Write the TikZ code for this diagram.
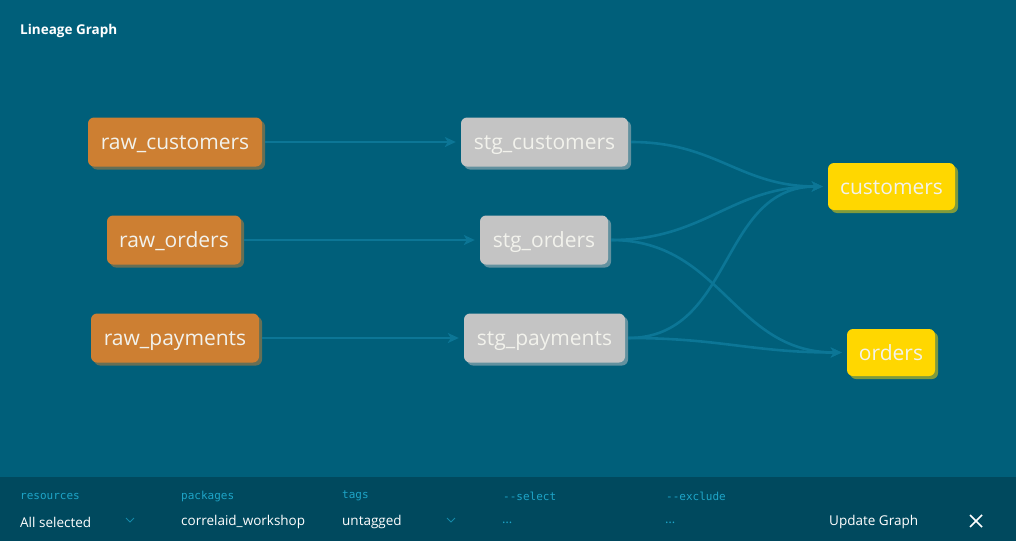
\documentclass[tikz,border=0pt]{standalone}
\usepackage{fontspec}
\setmainfont{Open Sans}
\setmonofont{DejaVu Sans Mono}
\usetikzlibrary{arrows.meta,shadows}

\definecolor{canvas}{RGB}{0,95,122}
\definecolor{panel}{RGB}{0,73,94}
\definecolor{edgeblue}{RGB}{12,118,150}
\definecolor{rawfill}{RGB}{205,127,50}
\definecolor{stgfill}{RGB}{196,196,196}
\definecolor{martfill}{RGB}{255,215,0}
\definecolor{nodetext}{RGB}{242,242,236}
\definecolor{fieldlabel}{RGB}{30,165,200}

\tikzset{
  model/.style={rectangle, rounded corners=6pt, draw=none, text=nodetext,
    minimum height=49pt, inner sep=0pt, font=\fontsize{21}{25}\selectfont,
    text height=18pt, text depth=3pt,
    drop shadow={shadow xshift=3pt, shadow yshift=-3pt, fill=#1, opacity=0.5},
    fill=#1},
  rawnode/.style={model=rawfill},
  stgnode/.style={model=stgfill},
  martnode/.style={model=martfill, minimum height=47pt},
  flow/.style={draw=edgeblue, line width=2.6pt,
    -{Stealth[length=11pt,width=10pt,inset=3pt]}, shorten <=3pt, shorten >=5pt},
  fieldname/.style={anchor=west, inner sep=0pt, text=fieldlabel,
    font=\ttfamily\fontsize{11}{13}\selectfont},
  fieldvalue/.style={anchor=west, inner sep=0pt, text=white,
    font=\fontsize{13.5}{16}\selectfont},
  fieldempty/.style={anchor=west, inner sep=0pt, text=fieldlabel,
    font=\fontsize{13}{15}\selectfont},
  chevron/.style={draw=fieldlabel!70!panel, line width=1pt},
}

\begin{document}
\begin{tikzpicture}[x=1pt, y=-1pt]
  \useasboundingbox (0,0) rectangle (1016,541);
  \fill[canvas] (0,0) rectangle (1016,541);
  \fill[panel] (0,477) rectangle (1016,541);

  \node[anchor=west, inner sep=0pt, text=white, font=\bfseries\fontsize{13.5}{15}\selectfont]
    (title) at (20,31) {Lineage Graph};

  % source models
  \node[rawnode, minimum width=174pt] (rawc) at (175,142) {raw\_customers};
  \node[rawnode, minimum width=134pt] (rawo) at (174,240) {raw\_orders};
  \node[rawnode, minimum width=168pt] (rawp) at (175,338) {raw\_payments};

  % staging models
  \node[stgnode, minimum width=167pt] (stgc) at (544.5,142) {stg\_customers};
  \node[stgnode, minimum width=128pt] (stgo) at (544,240) {stg\_orders};
  \node[stgnode, minimum width=161pt] (stgp) at (544.5,338) {stg\_payments};

  % marts
  \node[martnode, minimum width=127pt] (cust) at (891.5,186.5) {customers};
  \node[martnode, minimum width=88pt] (ord) at (891,352.5) {orders};

  % edges
  \draw[flow] (rawc) -- (stgc);
  \draw[flow] (rawo) -- (stgo);
  \draw[flow] (rawp) -- (stgp);
  \draw[flow] (stgc.east) to[out=0, in=180, looseness=1.1] (cust.west);
  \draw[flow] (stgo.east) to[out=0, in=180, looseness=1.1] (cust.west);
  \draw[flow] (stgp.east) to[out=0, in=180, looseness=1.1] (cust.west);
  \draw[flow] (stgo.east) to[out=0, in=180, looseness=1.1] (ord.west);
  \draw[flow] (stgp.east) to[out=0, in=180, looseness=1.1] (ord.west);

  % filter bar
  \node[fieldname] (lres) at (20,496) {resources};
  \node[fieldvalue] (vres) at (20,522) {All selected};
  \node[fieldname] (lpkg) at (181,496) {packages};
  \node[fieldvalue] (vpkg) at (181,522) {correlaid\_workshop};
  \node[fieldname] (ltag) at (342,496) {tags};
  \node[fieldvalue] (vtag) at (342,522) {untagged};
  \node[fieldname] (lsel) at (503,496) {-{}-select};
  \node[fieldempty] (vsel) at (502,523) {…};
  \node[fieldname] (lexc) at (666,496) {-{}-exclude};
  \node[fieldempty] (vexc) at (665,523) {…};
  \node[fieldvalue] (upd) at (829,522) {Update Graph};

  \draw[chevron] (126,518) -- (130,522) -- (134,518);
  \draw[chevron] (447,518) -- (451,522) -- (455,518);
  \draw[white, line width=1.5pt] (970,515) -- (982,527) (982,515) -- (970,527);
\end{tikzpicture}
\end{document}
